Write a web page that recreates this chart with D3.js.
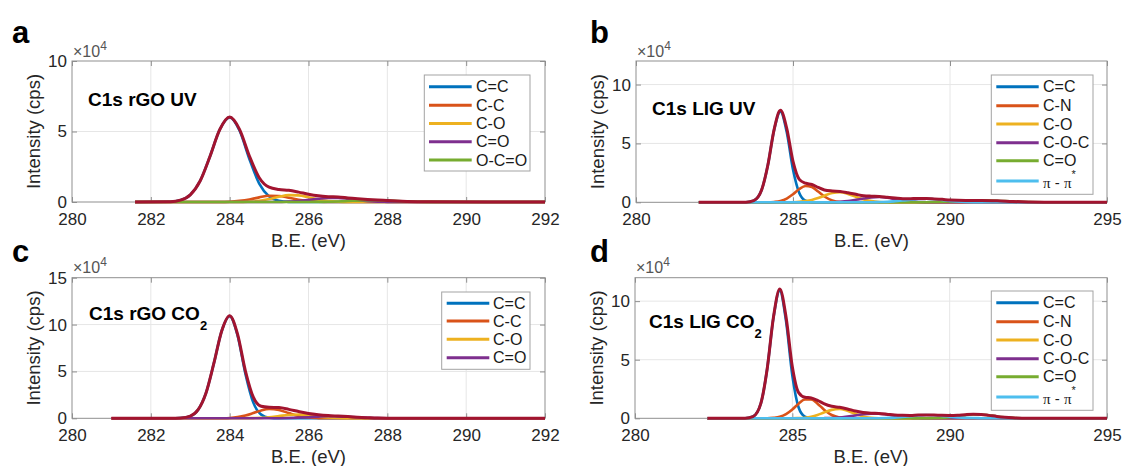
<!DOCTYPE html>
<html><head><meta charset="utf-8">
<script src="https://cdn.jsdelivr.net/npm/d3@7"></script>
<style>
body{margin:0;background:#fff}
svg{display:block}
text{font-family:Arial,"Liberation Sans",Helvetica,sans-serif}
</style>
</head><body>
<svg id="chart" width="1123" height="466"></svg>
<script>
// ---------------- DATA (intensities in units of 1e4 cps) ----------------
const xTicksRGO = [280, 282, 284, 286, 288, 290, 292];
const xTicksLIG = [280, 285, 290, 295];
const yTicks10 = [0, 5, 10];
const yTicks15 = [0, 5, 10, 15];

const legendA = ["C=C", "C-C", "C-O", "C=O", "O-C=O"];
const legendB = ["C=C", "C-N", "C-O", "C-O-C", "C=O", "π - π*"];
const legendC = ["C=C", "C-C", "C-O", "C=O"];
const legendD = ["C=C", "C-N", "C-O", "C-O-C", "C=O", "π - π*"];

// (a) C1s rGO UV
const aBE   = [281.6,282.5,282.75,283,283.25,283.5,283.75,284,284.25,284.5,284.75,285,285.25,285.5,285.75,286,286.25,286.5,286.75,287,287.25,287.5,287.75,288,288.25,288.5,289,292];
const aCC   = [0,.02,.13,.51,1.49,3.23,5.14,6.0,5.07,3.05,1.31,.40,.09,.01,0,0,0,0,0,0,0,0,0,0,0,0,0,0];
const aCsC  = [0,0,0,0,0,0,0,.02,.08,.18,.33,.44,.43,.30,.16,.06,.02,0,0,0,0,0,0,0,0,0,0,0];
const aCO   = [0,0,0,0,0,0,0,0,0,.03,.08,.21,.37,.49,.47,.34,.18,.07,.02,0,0,0,0,0,0,0,0,0];
const aCdO  = [0,0,0,0,0,0,0,0,0,0,0,0,0,.03,.07,.15,.23,.29,.29,.22,.13,.06,.02,.01,0,0,0,0];
const aOCO  = [0,0,0,0,0,0,0,0,0,0,0,0,0,0,0,0,.01,.02,.04,.07,.10,.12,.12,.10,.07,.04,.01,0];
const aEnv  = [0,.02,.13,.51,1.49,3.23,5.14,6.02,5.15,3.26,1.72,1.05,.89,.83,.70,.55,.44,.38,.35,.29,.23,.18,.14,.11,.07,.04,.01,0];

// (b) C1s LIG UV
const bBE   = [282,283,283.5,283.75,284,284.2,284.4,284.6,284.8,285,285.2,285.4,285.6,285.8,286,286.25,286.5,286.75,287,287.25,287.5,287.75,288,288.25,288.5,288.75,289,289.25,289.5,289.75,290,290.5,291,291.5,292,292.5,293,294,295];
const bCC   = [0,0,.01,.14,1.04,3.17,6.17,7.70,5.97,2.78,.78,.13,.01,0,0,0,0,0,0,0,0,0,0,0,0,0,0,0,0,0,0,0,0,0,0,0,0,0,0];
const bCN   = [0,0,0,0,0,0,.03,.11,.32,.69,1.13,1.39,1.30,.91,.49,.16,.03,0,0,0,0,0,0,0,0,0,0,0,0,0,0,0,0,0,0,0,0,0,0];
const bCO   = [0,0,0,0,0,0,0,0,0,.01,.04,.10,.20,.36,.56,.79,.85,.71,.47,.23,.10,.03,0,0,0,0,0,0,0,0,0,0,0,0,0,0,0,0,0];
const bCOC  = [0,0,0,0,0,0,0,0,0,0,0,0,0,0,0,.01,.04,.10,.21,.32,.42,.45,.39,.27,.15,.08,.03,.01,0,0,0,0,0,0,0,0,0,0,0];
const bCdO  = [0,0,0,0,0,0,0,0,0,0,0,0,0,0,0,0,0,0,0,0,0,0,0,0,0,0,.01,.01,.03,.05,.07,.13,.16,.13,.07,.03,.01,0,0];
const bPi   = [0,0,0,0,0,0,0,0,0,0,0,0,0,0,0,0,0,0,0,0,0,.02,.04,.09,.15,.23,.28,.30,.26,.20,.12,.03,0,0,0,0,0,0,0];
const bEnv  = [0,0,.01,.14,1.04,3.17,6.20,7.81,6.29,3.48,1.95,1.62,1.51,1.27,1.05,.96,.92,.81,.68,.55,.52,.50,.43,.36,.30,.31,.32,.32,.29,.25,.19,.16,.16,.13,.07,.03,.01,0,0];

// (c) C1s rGO CO2
const cBE   = [281,282,282.5,282.75,283,283.2,283.4,283.6,283.8,284,284.2,284.4,284.6,284.8,285,285.25,285.5,285.75,286,286.25,286.5,286.75,287,287.25,287.5,287.75,288,288.5,289,292];
const cCC   = [0,0,0,.03,.23,.92,2.71,5.88,9.34,10.9,8.85,4.74,1.67,.39,.06,0,0,0,0,0,0,0,0,0,0,0,0,0,0,0];
const cCsC  = [0,0,0,0,0,0,0,0,.01,.04,.13,.30,.56,.84,.99,.89,.56,.25,.08,.02,0,0,0,0,0,0,0,0,0,0];
const cCO   = [0,0,0,0,0,0,0,0,0,0,0,0,.02,.05,.12,.24,.36,.40,.32,.19,.08,.03,.01,0,0,0,0,0,0,0];
const cCdO  = [0,0,0,0,0,0,0,0,0,0,0,0,0,0,0,.01,.03,.07,.12,.18,.22,.21,.17,.11,.06,.02,.01,0,0,0];
const cEnv  = [0,0,0,.03,.23,.92,2.71,5.88,9.35,10.94,8.98,5.04,2.25,1.28,1.17,1.14,.95,.72,.52,.39,.30,.24,.18,.11,.06,.02,.01,0,0,0];

// (d) C1s LIG CO2
const dBE   = [282.3,283,283.5,283.75,284,284.2,284.4,284.6,284.8,285,285.2,285.4,285.6,285.8,286,286.25,286.5,286.75,287,287.25,287.5,287.75,288,288.25,288.5,288.75,289,289.25,289.5,289.75,290,290.25,290.5,290.75,291,291.25,291.5,291.75,292,292.5,293,295];
const dCC   = [0,0,.01,.15,1.28,4.21,8.59,10.9,8.29,3.64,.92,.14,.01,0,0,0,0,0,0,0,0,0,0,0,0,0,0,0,0,0,0,0,0,0,0,0,0,0,0,0,0,0];
const dCN   = [0,0,0,0,0,0,.04,.13,.36,.76,1.25,1.60,1.60,1.25,.76,.28,.07,.01,0,0,0,0,0,0,0,0,0,0,0,0,0,0,0,0,0,0,0,0,0,0,0,0];
const dCO   = [0,0,0,0,0,0,0,0,0,0,.02,.05,.13,.28,.49,.72,.80,.64,.38,.16,.05,.01,0,0,0,0,0,0,0,0,0,0,0,0,0,0,0,0,0,0,0,0];
const dCOC  = [0,0,0,0,0,0,0,0,0,0,0,0,0,0,.01,.03,.07,.15,.24,.34,.39,.39,.32,.22,.13,.06,.03,.01,0,0,0,0,0,0,0,0,0,0,0,0,0,0];
const dCdO  = [0,0,0,0,0,0,0,0,0,0,0,0,0,0,0,0,0,0,0,0,0,0,0,0,0,0,0,0,.02,.04,.10,.18,.27,.32,.32,.25,.16,.09,.04,0,0,0];
const dPi   = [0,0,0,0,0,0,0,0,0,0,0,0,0,0,0,0,0,0,0,0,0,.01,.03,.06,.12,.18,.25,.28,.26,.21,.14,.08,.04,.02,.01,0,0,0,0,0,0,0];
const dEnv  = [0,0,.01,.15,1.28,4.21,8.63,11.03,8.65,4.40,2.19,1.79,1.74,1.53,1.26,1.03,.94,.80,.62,.50,.44,.41,.35,.28,.25,.24,.28,.29,.28,.25,.24,.26,.31,.34,.33,.25,.16,.09,.04,0,0,0];

// ---------------- STYLE ----------------
const COLORS = ["#0072BD", "#D95319", "#EDB120", "#7E2F8E", "#77AC30", "#4DBEEE"];
const ENV_COLOR = "#A2142F";
const TXT = "#262626";
const AXC = "#8f8f8f";
const GRIDC = "#e6e6e6";

const panels = [
  {letter:"a", lx:12, ly:42.5, left:72, right:545, top:61, bottom:202,
   xDomain:[280,292], yMax:10, xTicks:xTicksRGO, yTicks:yTicks10,
   be:aBE, comps:[aCC,aCsC,aCO,aCdO,aOCO], env:aEnv, legend:legendA,
   title:"C1s rGO UV", sub:null, tx:88, ty:106,
   lg:{x:424.3, y:75, w:105.7, h:96, rows:[86.7,105.3,123.5,141.8,160], lx1:429, lx2:471.7, tx:476}},
  {letter:"b", lx:590, ly:42.5, left:636, right:1107, top:61, bottom:202.3,
   xDomain:[280,295], yMax:12, xTicks:xTicksLIG, yTicks:yTicks10,
   be:bBE, comps:[bCC,bCN,bCO,bCOC,bCdO,bPi], env:bEnv, legend:legendB,
   title:"C1s LIG UV", sub:null, tx:652, ty:115,
   lg:{x:991.3, y:75, w:101.7, h:119.3, rows:[86.7,105.7,124,142.7,160.7,181], lx1:996.3, lx2:1038.7, tx:1043}},
  {letter:"c", lx:12, ly:262, left:72, right:545, top:277.7, bottom:418.3,
   xDomain:[280,292], yMax:15, xTicks:xTicksRGO, yTicks:yTicks15,
   be:cBE, comps:[cCC,cCsC,cCO,cCdO], env:cEnv, legend:legendC,
   title:"C1s rGO CO", sub:"2", tx:89, ty:320,
   lg:{x:441.7, y:292, w:88.3, h:77.3, rows:[303.3,321,339.3,357.7], lx1:446.7, lx2:489.3, tx:493}},
  {letter:"d", lx:590, ly:262, left:635, right:1107, top:277.7, bottom:418.3,
   xDomain:[280,295], yMax:12, xTicks:xTicksLIG, yTicks:yTicks10,
   be:dBE, comps:[dCC,dCN,dCO,dCOC,dCdO,dPi], env:dEnv, legend:legendD,
   title:"C1s LIG CO", sub:"2", tx:649, ty:328,
   lg:{x:991.3, y:291, w:101.7, h:119.3, rows:[302.7,321.7,340,358.7,376.7,397], lx1:996.3, lx2:1038.7, tx:1043}}
];

const svg = d3.select("#chart");

function drawPanel(p) {
  const g = svg.append("g");
  const x = d3.scaleLinear().domain(p.xDomain).range([p.left, p.right]);
  const y = d3.scaleLinear().domain([0, p.yMax]).range([p.bottom, p.top]);

  // grid
  g.append("g").selectAll("line").data(p.xTicks.slice(1, -1)).join("line")
    .attr("x1", d => x(d)).attr("x2", d => x(d)).attr("y1", p.top).attr("y2", p.bottom)
    .attr("stroke", GRIDC).attr("stroke-width", 1);
  g.append("g").selectAll("line").data(p.yTicks.filter(v => v > 0 && v < p.yMax)).join("line")
    .attr("x1", p.left).attr("x2", p.right).attr("y1", d => y(d)).attr("y2", d => y(d))
    .attr("stroke", GRIDC).attr("stroke-width", 1);

  // box
  g.append("rect").attr("x", p.left).attr("y", p.top)
    .attr("width", p.right - p.left).attr("height", p.bottom - p.top)
    .attr("fill", "none").attr("stroke", AXC).attr("stroke-width", 1);

  // axes
  const styleAxis = sel => {
    sel.select(".domain").remove();
    sel.selectAll(".tick line").attr("stroke", AXC);
    sel.selectAll(".tick text").attr("fill", TXT).style("font-size", "17px")
      .style("font-family", "Arial, 'Liberation Sans', sans-serif");
  };
  g.append("g").attr("transform", `translate(0,${p.bottom})`)
    .call(d3.axisBottom(x).tickValues(p.xTicks).tickSizeInner(-5).tickSizeOuter(0).tickPadding(11))
    .call(styleAxis);
  g.append("g").attr("transform", `translate(0,${p.top})`)
    .call(d3.axisTop(x).tickValues(p.xTicks).tickSizeInner(-5).tickSizeOuter(0).tickFormat(""))
    .call(styleAxis);
  g.append("g").attr("transform", `translate(${p.left},0)`)
    .call(d3.axisLeft(y).tickValues(p.yTicks).tickSizeInner(-5).tickSizeOuter(0).tickPadding(5))
    .call(styleAxis);
  g.append("g").attr("transform", `translate(${p.right},0)`)
    .call(d3.axisRight(y).tickValues(p.yTicks).tickSizeInner(-5).tickSizeOuter(0).tickFormat(""))
    .call(styleAxis);

  // lines
  const line = d3.line().x(d => x(d[0])).y(d => y(d[1])).curve(d3.curveMonotoneX);
  p.comps.forEach((vals, i) => {
    g.append("path").datum(p.be.map((b, k) => [b, vals[k]]))
      .attr("d", line).attr("fill", "none").attr("stroke", COLORS[i])
      .attr("stroke-width", 2.6).attr("stroke-linejoin", "round");
  });
  g.append("path").datum(p.be.map((b, k) => [b, p.env[k]]))
    .attr("d", line).attr("fill", "none").attr("stroke", ENV_COLOR)
    .attr("stroke-width", 3).attr("stroke-linejoin", "round");

  // exponent
  const ex = g.append("text").attr("x", p.left + 1).attr("y", p.top - 4.5)
    .attr("fill", "#555").style("font-size", "16px");
  ex.append("tspan").text("×10");
  ex.append("tspan").attr("dy", -7).style("font-size", "12px").text("4");

  // axis labels
  g.append("text").attr("x", (p.left + p.right) / 2).attr("y", p.bottom + 44.5)
    .attr("text-anchor", "middle").attr("fill", TXT).style("font-size", "18.5px").text("B.E. (eV)");
  g.append("text").attr("transform", `translate(${p.left - 32.5},${(p.top + p.bottom) / 2}) rotate(-90)`)
    .attr("text-anchor", "middle").attr("fill", TXT).style("font-size", "18.5px").text("Intensity (cps)");

  // panel letter
  g.append("text").attr("x", p.lx).attr("y", p.ly).attr("fill", "#000")
    .style("font-size", "31px").style("font-weight", "bold").text(p.letter);

  // inner title
  const t = g.append("text").attr("x", p.tx).attr("y", p.ty).attr("fill", "#000")
    .style("font-size", "19px").style("font-weight", "bold");
  t.append("tspan").text(p.title);
  if (p.sub) t.append("tspan").attr("dy", 10).style("font-size", "13px").text(p.sub);

  // legend
  const L = p.lg;
  g.append("rect").attr("x", L.x).attr("y", L.y).attr("width", L.w).attr("height", L.h)
    .attr("fill", "#fff").attr("stroke", "#a3a3a3").attr("stroke-width", 1);
  p.legend.forEach((lab, i) => {
    const ry = L.rows[i];
    g.append("line").attr("x1", L.lx1).attr("x2", L.lx2).attr("y1", ry).attr("y2", ry)
      .attr("stroke", COLORS[i]).attr("stroke-width", 3);
    if (lab.startsWith("π")) {
      const tt = g.append("text").attr("x", L.tx).attr("y", ry + 7.3).attr("fill", "#1a1a1a")
        .style("font-size", "15px");
      tt.append("tspan").style("font-family", "'Liberation Serif','DejaVu Serif',serif").text("π");
      tt.append("tspan").text(" - ");
      tt.append("tspan").style("font-family", "'Liberation Serif','DejaVu Serif',serif").text("π");
      tt.append("tspan").attr("dy", -10).style("font-size", "11px").text("*");
    } else {
      g.append("text").attr("x", L.tx).attr("y", ry + 5.5).attr("fill", "#1a1a1a")
        .style("font-size", "16px").text(lab);
    }
  });
}

panels.forEach(drawPanel);
</script>
</body></html>
